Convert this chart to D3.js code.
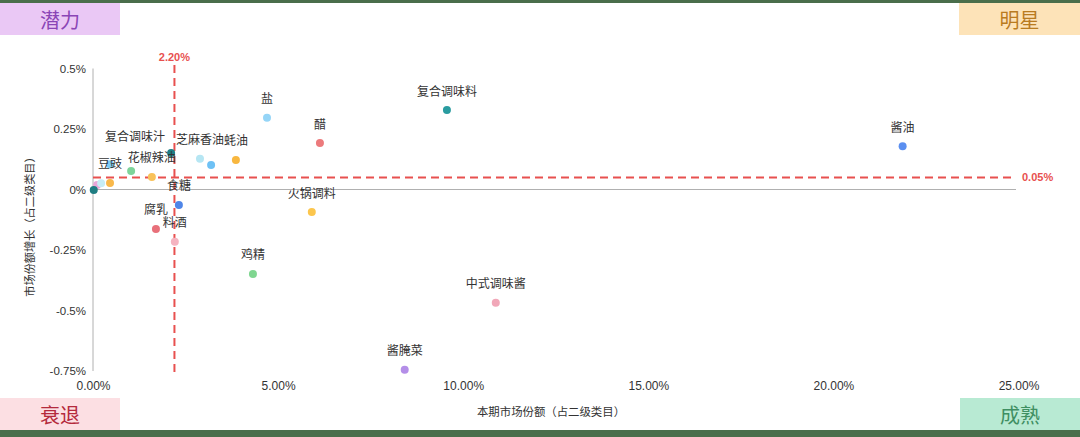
<!DOCTYPE html>
<html><head><meta charset="utf-8">
<script src="https://cdn.jsdelivr.net/npm/d3@7"></script>
<style>
html,body{margin:0;padding:0;background:#fff;}
svg{display:block;font-family:"Liberation Sans",Arial,"Noto Sans CJK SC",sans-serif;}
</style></head>
<body><svg id="c" width="1080" height="437"></svg>
<script>
const names  = ["酱油","复合调味料","盐","醋","蚝油","芝麻香油","","花椒辣油","复合调味汁","","","豆豉","","","","食糖","腐乳","料酒","火锅调料","鸡精","中式调味酱","酱腌菜"];
const shareX = [21.87,9.56,4.70,6.13,3.86,2.89,3.19,1.59,1.03,2.11,0.46,0.46,0.11,0.22,0.02,2.32,1.70,2.21,5.91,4.32,10.88,8.42];
const growthY= [0.179,0.328,0.296,0.192,0.122,0.127,0.101,0.052,0.076,0.151,0.104,0.027,0.019,0.026,-0.002,-0.064,-0.163,-0.216,-0.093,-0.349,-0.468,-0.745];
const colors = ["#5b8ff0","#2a9ca0","#95d5f7","#ec7a7c","#f8b73f","#b6e6f3","#6ec1f5","#f9c25a","#7ed49a","#1f7f86","#7dcbf5","#f9b84a","#e9a6d8","#c7ecf5","#1f7d82","#4f86e8","#e8707a","#f5b3c0","#fcc64d","#7fd690","#f1a7b8","#b48ee8"];
const xTicks = [0,5,10,15,20,25];
const yTicks = [0.5,0.25,0,-0.25,-0.5,-0.75];
const yTickLabels = ["0.5%","0.25%","0%","-0.25%","-0.5%","-0.75%"];
const refX = 2.2, refY = 0.05;
const quadrants = [
  {t:"潜力", pos:"tl", bg:"#eac8f5", fg:"#8a45b6"},
  {t:"明星", pos:"tr", bg:"#fde3b8", fg:"#b97b1f"},
  {t:"衰退", pos:"bl", bg:"#fcdfe3", fg:"#b42a3c"},
  {t:"成熟", pos:"br", bg:"#b8ead3", fg:"#3f8f62"}
];
const xTitle = "本期市场份额（占二级类目）";
const yTitle = "市场份额增长（占二级类目）";

const svg = d3.select("#c");
const W=1080,H=437;
svg.append("rect").attr("x",0).attr("y",0).attr("width",W).attr("height",3).attr("fill","#4a6e4b");
svg.append("rect").attr("x",0).attr("y",430).attr("width",W).attr("height",7).attr("fill","#4a6e4b");

const x = d3.scaleLinear().domain([0,25]).range([93,1018.5]);
const y = d3.scaleLinear().domain([-0.75,0.5]).range([371,68.5]);

const qGeom = {tl:[0,3,120,32], tr:[959,3,121,32], bl:[0,398,120,32], br:[960,398,120,32]};
quadrants.forEach(q=>{
  const g=qGeom[q.pos];
  svg.append("rect").attr("x",g[0]).attr("y",g[1]).attr("width",g[2]).attr("height",g[3]).attr("fill",q.bg);
  svg.append("text").attr("x",g[0]+g[2]/2).attr("y",g[1]+g[3]/2).attr("text-anchor","middle")
    .attr("dominant-baseline","central").attr("font-size",20).attr("fill",q.fg)
    .attr("font-family","'Noto Sans CJK SC',sans-serif").text(q.t);
});

svg.append("line").attr("x1",x(0)).attr("x2",x(0)).attr("y1",y(0.5)).attr("y2",y(-0.75)).attr("stroke","#b0b0b0").attr("stroke-width",1);
svg.append("line").attr("x1",x(0)).attr("x2",1016).attr("y1",y(0)).attr("y2",y(0)).attr("stroke","#b0b0b0").attr("stroke-width",1);

const ya = svg.append("g").attr("transform",`translate(${x(0)},0)`)
  .call(d3.axisLeft(y).tickValues(yTicks).tickSize(0).tickPadding(7).tickFormat((d,i)=>yTickLabels[i]));
ya.select(".domain").remove();
ya.selectAll("text").attr("font-size",11.5).attr("fill","#333").attr("font-family","'Liberation Sans',Arial,sans-serif");

const xa = svg.append("g").attr("transform",`translate(0,${y(-0.75)})`)
  .call(d3.axisBottom(x).tickValues(xTicks).tickSize(0).tickPadding(10).tickFormat(d=>d3.format(".2f")(d)+"%"));
xa.select(".domain").remove();
xa.selectAll("text").attr("font-size",12).attr("fill","#333").attr("font-family","'Liberation Sans',Arial,sans-serif");

svg.append("text").attr("x",551).attr("y",411).attr("text-anchor","middle").attr("dominant-baseline","central")
  .attr("font-size",11.4).attr("fill","#333").attr("font-family","'Noto Sans CJK SC',sans-serif").text(xTitle);
svg.append("text").attr("transform","translate(29,224) rotate(-90)").attr("text-anchor","middle").attr("dominant-baseline","central")
  .attr("font-size",11.2).attr("fill","#333").attr("font-family","'Noto Sans CJK SC',sans-serif").text(yTitle);

const red="#e8504f";
svg.append("line").attr("x1",x(refX)).attr("x2",x(refX)).attr("y1",65).attr("y2",373)
  .attr("stroke",red).attr("stroke-width",2).attr("stroke-dasharray","8,5");
svg.append("line").attr("x1",x(0)).attr("x2",1015).attr("y1",y(refY)).attr("y2",y(refY))
  .attr("stroke",red).attr("stroke-width",2).attr("stroke-dasharray","8,5");
svg.append("text").attr("x",x(refX)).attr("y",57).attr("text-anchor","middle").attr("dominant-baseline","central")
  .attr("font-size",11).attr("font-weight","bold").attr("fill",red).text(d3.format(".2f")(refX)+"%");
svg.append("text").attr("x",1022).attr("y",y(refY)).attr("text-anchor","start").attr("dominant-baseline","central")
  .attr("font-size",11).attr("font-weight","bold").attr("fill",red).text(d3.format(".2f")(refY)+"%");

const pts = names.map((n,i)=>({n, x:shareX[i], y:growthY[i], c:colors[i]}));
const nudge = {"复合调味汁":[4,-16]};
svg.append("g").selectAll("circle").data(pts).join("circle")
  .attr("cx",d=>x(d.x)).attr("cy",d=>y(d.y)).attr("r",4).attr("fill",d=>d.c);
svg.append("g").selectAll("text").data(pts.filter(d=>d.n)).join("text")
  .attr("x",d=>x(d.x)+((nudge[d.n]||[0,0])[0]))
  .attr("y",d=>y(d.y)-20+((nudge[d.n]||[0,0])[1]))
  .attr("text-anchor","middle").attr("dominant-baseline","central")
  .attr("font-size",12).attr("fill","#333").attr("font-family","'Noto Sans CJK SC',sans-serif")
  .text(d=>d.n);
</script></body></html>
